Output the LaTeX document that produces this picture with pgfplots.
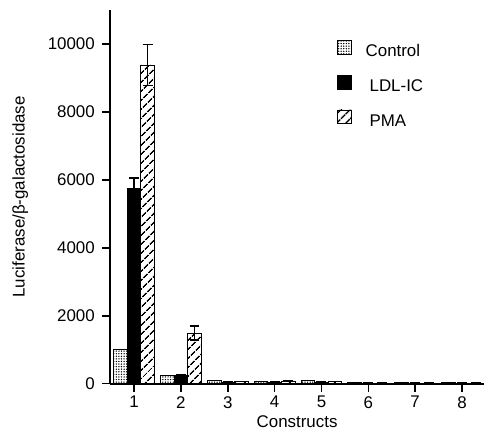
\documentclass[border=0pt]{standalone}
\usepackage{pgfplots}
\pgfplotsset{compat=1.18}
\usetikzlibrary{patterns,patterns.meta}
\usepackage{fontspec}
\setmainfont{Liberation Sans}
\begin{document}
\begin{tikzpicture}
\begin{axis}[
  scale only axis,
  width=376pt, height=376pt,
  xmin=0.49, xmax=8.47,
  ymin=0, ymax=11000,
  axis x line*=bottom, axis y line*=left,
  axis line style={line width=2pt},
  xtick={1,...,8},
  ytick={0,2000,4000,6000,8000,10000},
  scaled y ticks=false,
  tick align=outside,
  major tick length=8pt,
  tick style={line width=1.5pt, black},
  /pgf/number format/1000 sep={},
  /pgf/number format/assume math mode=true,
  ticklabel style={font=\fontsize{17}{20}\selectfont},
  yticklabel style={xshift=-4pt},
  xticklabel style={yshift=-1pt},
  xlabel={Constructs},
  ylabel={Luciferase/β-galactosidase},
  label style={font=\fontsize{17}{20}\selectfont},
  ylabel style={yshift=13pt},
  xlabel style={yshift=-1pt},
  ybar=0pt,
  bar width=0.29,
  legend style={draw=none, at={(0.606,0.92)}, anchor=north west, inner sep=0pt,
    font=\fontsize{17}{20}\selectfont, row sep=14pt,
    legend cell align=left,
    nodes={text height=13pt, text depth=4pt, inner sep=0pt}},
  legend image code/.code={\draw[#1, draw=black, line width=0.9pt] (0pt,-2pt) rectangle (14pt,12pt);},
]
\addplot[draw=black, line width=0.9pt, pattern={Dots[distance=2.6pt, radius=0.75pt]}] coordinates {
 (1,1000) (2,250) (3,100) (4,80) (5,100) (6,40) (7,40) (8,40)};
\addlegendentry{\hspace{14pt}Control}
\addplot[draw=black, fill=black, line width=0.9pt,
  error bars/.cd, y dir=plus, y explicit, error bar style={line width=1.5pt, black}, error mark options={rotate=90, mark size=5pt, line width=1.5pt}] coordinates {
 (1,5760) +- (0,300) (2,250) +- (0,0) (3,50) +- (0,0) (4,50) +- (0,0) (5,50) +- (0,0) (6,20) +- (0,0) (7,20) +- (0,0) (8,20) +- (0,0)};
\addlegendentry{\hspace{18pt}LDL-IC}
\addplot[draw=black, line width=0.9pt, pattern={Lines[angle=45, distance=6.5pt, line width=1.6pt]},
  error bars/.cd, y dir=both, y explicit, error bar style={line width=1.5pt, black}, error mark options={rotate=90, mark size=5pt, line width=1.5pt}] coordinates {
 (1,9380) +- (0,600) (2,1490) +- (0,210) (3,60) +- (0,0) (4,80) +- (0,0) (5,70) +- (0,0) (6,20) +- (0,0) (7,20) +- (0,0) (8,20) +- (0,0)};
\addlegendentry{\hspace{18pt}PMA}
\end{axis}
\path ([xshift=-9pt]current bounding box.west);
\path ([yshift=10pt]current axis.north);
\end{tikzpicture}
\end{document}
